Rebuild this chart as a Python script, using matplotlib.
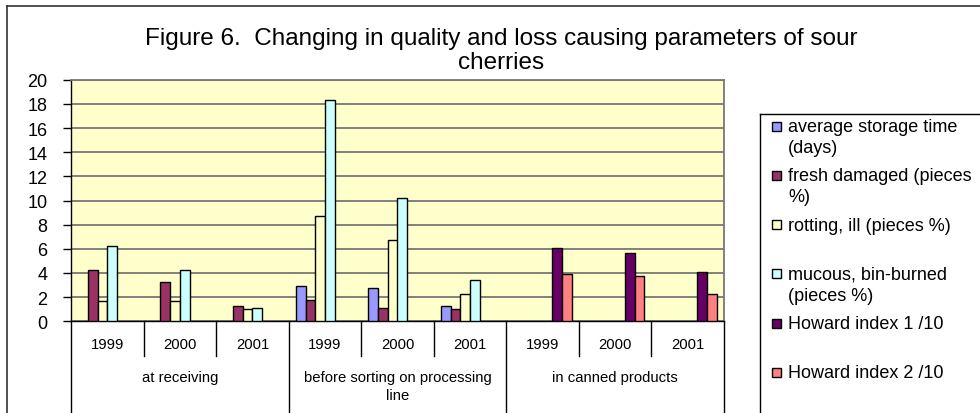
import numpy as np
import matplotlib
matplotlib.use("Agg")
import matplotlib.pyplot as plt
from matplotlib.lines import Line2D
from matplotlib.patches import Rectangle

plt.rcParams["font.family"] = ["Liberation Sans", "DejaVu Sans"]

nan = np.nan
years = ["1999", "2000", "2001"] * 3
groups = ["at receiving", "before sorting on processing\nline", "in canned products"]

series_labels = [
    "average storage time\n(days)",
    "fresh damaged (pieces\n%)",
    "rotting, ill (pieces %)",
    "mucous, bin-burned\n(pieces %)",
    "Howard index 1 /10",
    "Howard index 2 /10",
]
storage_time = [nan, nan, nan, 2.92, 2.76, 1.27, nan, nan, nan]
fresh_damaged = [4.25, 3.28, 1.30, 1.79, 1.10, 0.99, nan, nan, nan]
rotting_ill = [1.65, 1.65, 1.00, 8.74, 6.76, 2.26, nan, nan, nan]
mucous_burned = [6.26, 4.25, 1.13, 18.30, 10.23, 3.45, nan, nan, nan]
howard_1 = [nan, nan, nan, nan, nan, nan, 6.07, 5.62, 4.11]
howard_2 = [nan, nan, nan, nan, nan, nan, 3.92, 3.75, 2.29]
colors = ["#9999FF", "#993366", "#FFFFCC", "#CCFFFF", "#660066", "#FF8080"]

series = [storage_time, fresh_damaged, rotting_ill, mucous_burned, howard_1, howard_2]

W, H = 980, 414
fig = plt.figure(figsize=(W / 100, H / 100), dpi=100)
ax_l, ax_r, ax_t, ax_b = 71, 724, 80.7, 322.3
ax = fig.add_axes([ax_l / W, 1 - ax_b / H, (ax_r - ax_l) / W, (ax_b - ax_t) / H])
ax.set_facecolor("#FFFFCC")

x = np.arange(len(years))
bw = 1 / 7.5  # excel default gap width 150%
for i, (vals, col) in enumerate(zip(series, colors)):
    ax.bar(x + (i - 2.5) * bw, vals, width=bw, color=col, edgecolor="black",
           linewidth=1.0, zorder=3)

ax.set_xlim(-0.5, len(years) - 0.5)
ax.set_ylim(0, 20)
ax.set_yticks(np.arange(0, 21, 2))
ax.yaxis.grid(True, color="#777777", linewidth=1.3, zorder=0)
ax.set_axisbelow(True)
ax.tick_params(axis="y", direction="out", length=6, width=1, pad=11, labelsize=13)
ax.set_xticks(np.arange(len(years) + 1) - 0.5)
ax.set_xticklabels([])
ax.tick_params(axis="x", length=0)
for s in ["top", "right"]:
    ax.spines[s].set_color("#777777")
    ax.spines[s].set_linewidth(1.3)
for s in ["left", "bottom"]:
    ax.spines[s].set_color("black")
    ax.spines[s].set_linewidth(1.0)

# multi-level category axis
ph = ax_b - ax_t
def yfrac(py):
    return -(py - ax_b) / ph

trans = ax.get_xaxis_transform()
for k in range(len(years) + 1):
    low = 414 if k % 3 == 0 else 357
    ax.plot([k - 0.5, k - 0.5], [0, yfrac(low)], color="black", lw=1.0,
            transform=trans, clip_on=False)
for k, yr in enumerate(years):
    ax.text(k, yfrac(345), yr, transform=trans, ha="center", va="center", fontsize=10.7)
for g, name in enumerate(groups):
    ax.text(3 * g + 1, yfrac(371), name, transform=trans, ha="center", va="top",
            fontsize=10.7, linespacing=1.4)

# title
fig.text(501 / W, 1 - 51 / H,
         "Figure 6.  Changing in quality and loss causing parameters of sour\ncherries",
         ha="center", va="center", fontsize=17.5, linespacing=1.15)

# outer chart border
fig.add_artist(Line2D([6.7 / W, 1], [1 - 6.7 / H, 1 - 6.7 / H], color="#333333", lw=1.2))
fig.add_artist(Line2D([6.7 / W, 6.7 / W], [0, 1 - 6.7 / H], color="#333333", lw=1.2))

# legend box
fig.add_artist(Line2D([760 / W, 1], [1 - 115 / H, 1 - 115 / H], color="black", lw=1.0))
fig.add_artist(Line2D([760 / W, 760 / W], [0, 1 - 115 / H], color="black", lw=1.0))
for i, (lab, col) in enumerate(zip(series_labels, colors)):
    ty = 127 + i * 49.3
    fig.add_artist(Rectangle((772 / W, 1 - (ty + 4.5) / H), 9 / W, 9 / H,
                             facecolor=col, edgecolor="black", lw=1.0))
    fig.text(788 / W, 1 - (ty - 8) / H, lab, ha="left", va="top",
             fontsize=13, linespacing=1.3)

fig.savefig("out.png", dpi=100)
